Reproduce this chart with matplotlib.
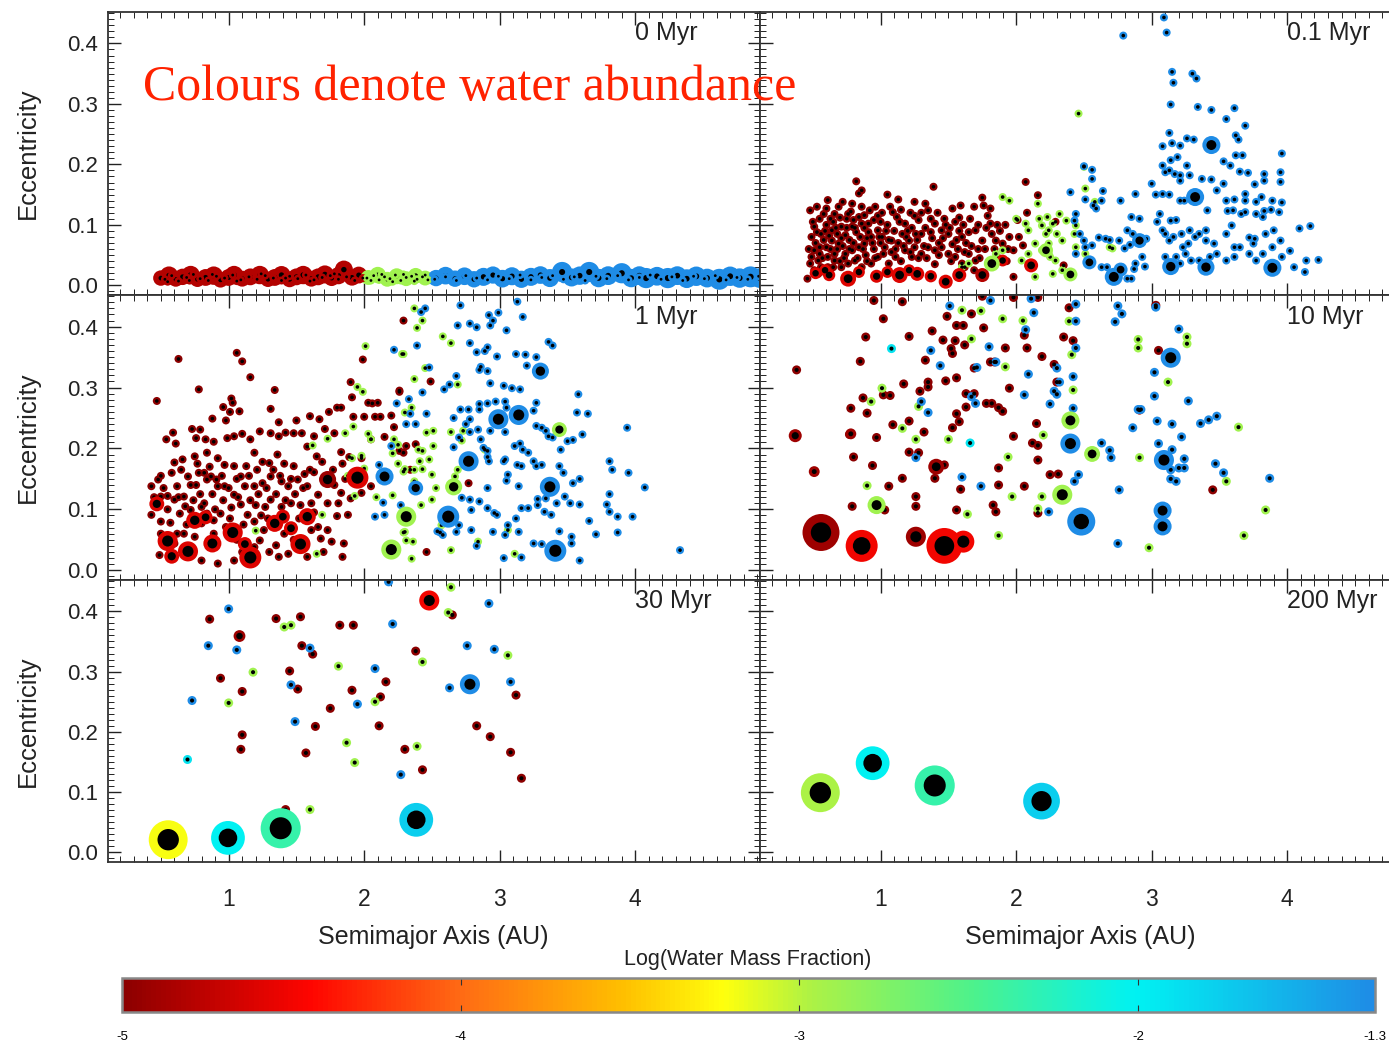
import numpy as np
import matplotlib.pyplot as plt
from matplotlib.colors import LinearSegmentedColormap
from matplotlib.ticker import MultipleLocator, FormatStrFormatter
import matplotlib.cm as cm
import matplotlib.colors as mcolors

plt.rcParams['font.family'] = ['Liberation Sans', 'DejaVu Sans']

# ---------------- colour scale: log(water mass fraction) ----------------
W_MIN, W_MAX = -5.0, -1.3
cmap = LinearSegmentedColormap.from_list('water', [
    (0.00, (0.55, 0.00, 0.00)),
    (0.15, (1.00, 0.02, 0.00)),
    (0.27, (1.00, 0.42, 0.08)),
    (0.40, (1.00, 0.75, 0.00)),
    (0.48, (1.00, 1.00, 0.05)),
    (0.55, (0.68, 0.95, 0.27)),
    (0.68, (0.30, 0.95, 0.55)),
    (0.81, (0.00, 0.95, 0.95)),
    (1.00, (0.12, 0.55, 0.90)),
])
cbar_ticks = [-5, -4, -3, -2, -1.3]
cbar_labels = ['-5', '-4', '-3', '-2', '-1.3']

# water values of the colour groups
W_DRY = -5.0
W_BAND_RED = -4.8
W_GREEN = -2.9
W_CYAN = -1.9
W_BLUE = -1.3

# masses (Earth masses) of the small bodies
M_SMALL = 0.028
M_SMALL_LATE = 0.04

# ---------------- 0 Myr ----------------
# embryos (a, e, mass)
p0_red_emb = [(0.50,0.012,0.20),(0.56,0.016,0.34),(0.61,0.010,0.18),(0.66,0.014,0.24),(0.72,0.017,0.34),
              (0.77,0.010,0.20),(0.83,0.013,0.26),(0.89,0.016,0.34),(0.94,0.009,0.20),(1.00,0.013,0.26),
              (1.04,0.017,0.34),(1.10,0.011,0.22),(1.16,0.014,0.26),(1.23,0.017,0.34),(1.29,0.010,0.20),
              (1.34,0.013,0.26),(1.39,0.017,0.32),(1.45,0.010,0.22),(1.50,0.014,0.26),(1.55,0.017,0.34),
              (1.61,0.011,0.22),(1.66,0.014,0.26),(1.71,0.018,0.32),(1.76,0.012,0.22),(1.81,0.016,0.28),
              (1.85,0.026,0.32),(1.91,0.013,0.24),(1.96,0.017,0.26)]
p0_green_emb = [(2.03,0.013,0.18),(2.10,0.017,0.24),(2.17,0.010,0.18),(2.24,0.015,0.22),(2.31,0.011,0.18),
                (2.38,0.016,0.20),(2.45,0.012,0.18)]
p0_blue_emb = [(2.53,0.012,0.24),(2.60,0.016,0.30),(2.67,0.011,0.24),(2.74,0.015,0.30),(2.81,0.010,0.24),
               (2.88,0.014,0.32),(2.95,0.017,0.28),(3.02,0.011,0.30),(3.09,0.015,0.32),(3.16,0.010,0.28),
               (3.23,0.014,0.32),(3.30,0.017,0.30),(3.37,0.012,0.32),(3.46,0.022,0.45),(3.53,0.013,0.32),
               (3.59,0.016,0.34),(3.66,0.022,0.45),(3.73,0.012,0.34),(3.80,0.016,0.36),(3.90,0.020,0.45),
               (3.97,0.012,0.34),(4.03,0.016,0.36),(4.08,0.012,0.45),(4.16,0.015,0.36),(4.24,0.012,0.45),
               (4.31,0.016,0.36),(4.38,0.011,0.36),(4.45,0.015,0.40),(4.53,0.012,0.36),(4.62,0.010,0.50),
               (4.70,0.015,0.40),(4.77,0.012,0.40),(4.85,0.014,0.50),(4.92,0.012,0.42)]
# planetesimals (a, e)
p0_red = [(0.53,0.010),(0.58,0.016),(0.63,0.007),(0.69,0.013),(0.74,0.018),(0.79,0.011),(0.85,0.008),
          (0.91,0.015),(0.97,0.012),(1.03,0.017),(1.09,0.009),(1.15,0.014),(1.21,0.010),(1.27,0.016),
          (1.33,0.012),(1.39,0.008),(1.45,0.015),(1.51,0.011),(1.57,0.017),(1.63,0.009),(1.69,0.013),
          (1.75,0.016),(1.81,0.010),(1.87,0.014),(1.93,0.008),(1.99,0.012),(0.55,0.006),(0.71,0.008),
          (0.88,0.018),(1.06,0.007),(1.24,0.019),(1.42,0.012),(1.60,0.007),(1.78,0.019)]
p0_green = [(2.02,0.012),(2.07,0.016),(2.11,0.009),(2.15,0.014),(2.19,0.011),(2.23,0.017),(2.27,0.008),
            (2.31,0.013),(2.35,0.015),(2.39,0.010),(2.43,0.014),(2.47,0.009),(2.05,0.008),(2.13,0.018),
            (2.21,0.006),(2.29,0.018),(2.37,0.007),(2.45,0.017)]
p0_blue = [(2.52,0.010),(2.60,0.014),(2.68,0.008),(2.75,0.016),(2.83,0.012),(2.91,0.009),(2.99,0.015),
           (3.07,0.011),(3.15,0.017),(3.23,0.009),(3.31,0.013),(3.39,0.016),(3.47,0.010),(3.55,0.014),
           (3.63,0.008),(3.71,0.015),(3.79,0.011),(3.87,0.016),(3.95,0.009),(4.03,0.013),(4.11,0.017),
           (4.19,0.010),(4.27,0.014),(4.35,0.008),(4.43,0.015),(4.51,0.011),(4.59,0.016),(4.67,0.009),
           (4.75,0.013),(4.83,0.010),(4.91,0.015)]

# ---------------- 0.1 Myr ----------------
p01_red = [(0.48,0.124),(0.61,0.141),(0.60,0.127),(0.72,0.138),(0.82,0.172),(0.86,0.157),(0.84,0.152),
           (0.79,0.135),(0.76,0.118),(0.69,0.130),(0.65,0.105),(0.55,0.110),(0.51,0.097),(0.49,0.080),
           (0.56,0.085),(0.64,0.091),(0.71,0.097),(0.79,0.097),(0.86,0.102),(0.91,0.102),(0.96,0.130),
           (0.92,0.124),(0.88,0.116),(0.84,0.113),(0.80,0.108),(0.74,0.083),(0.69,0.069),(0.64,0.074),
           (0.60,0.063),(0.55,0.063),(0.51,0.058),(0.49,0.047),(0.48,0.036),(0.54,0.041),(0.61,0.047),
           (0.66,0.052),(0.74,0.052),(0.79,0.058),(0.84,0.063),(0.88,0.069),(0.93,0.080),(0.98,0.091),
           (1.01,0.080),(1.03,0.063),(1.08,0.074),(1.09,0.121),(1.12,0.113),(1.05,0.150),(1.13,0.142),
           (1.18,0.102),(1.16,0.085),(1.21,0.074),(1.25,0.138),(1.28,0.108),(1.30,0.085),(1.33,0.135),
           (1.35,0.124),(1.39,0.163),(1.40,0.102),(1.45,0.091),(1.50,0.085),(1.53,0.127),(1.59,0.132),
           (1.55,0.105),(1.60,0.080),(1.65,0.088),(1.69,0.130),(1.75,0.145),(1.76,0.132),(1.81,0.127),
           (1.81,0.102),(1.70,0.091),(1.75,0.074),(1.82,0.085),(1.85,0.074),(1.90,0.069),(1.95,0.080),
           (1.98,0.058),(1.98,0.014),(2.07,0.171),(2.16,0.149),(2.08,0.120),(2.01,0.108),(2.02,0.080),
           (2.05,0.066),(1.30,0.052),(1.35,0.063),(1.40,0.058),(1.45,0.063),(1.50,0.052),(1.55,0.047),
           (1.23,0.047),(1.18,0.058),(1.11,0.047),(1.06,0.036),(0.98,0.047),(0.93,0.036),(0.86,0.030),
           (0.81,0.041),(0.76,0.036),(0.71,0.030),(0.66,0.041),(0.61,0.030),(0.56,0.030),(0.51,0.025),
           (0.46,0.011),(0.54,0.019),(1.25,0.063),(1.65,0.052),(1.70,0.041),(1.60,0.036),(1.69,0.025),
           (0.52,0.070),(0.58,0.075),(0.63,0.060),(0.68,0.085),(0.72,0.065),(0.77,0.075),(0.82,0.088),
           (0.87,0.060),(0.90,0.078),(0.95,0.060),(1.00,0.070),(1.04,0.090),(1.08,0.055),(1.13,0.070),
           (1.20,0.090),(1.27,0.075),(1.32,0.065),(1.38,0.078),(1.43,0.070),(1.48,0.100),(1.53,0.068),
           (1.58,0.090),(1.63,0.070),(1.72,0.060),(1.78,0.095),(1.88,0.090),(0.57,0.045),(0.70,0.040),
           (0.89,0.050),(1.15,0.040),(1.40,0.035),(1.62,0.030),(1.93,0.040),(0.60,0.100),(0.75,0.110),
           (1.00,0.105),(1.25,0.115),(0.53,0.130),(0.66,0.118),(0.98,0.115),(1.22,0.120),(1.58,0.112),
           (2.29,0.105),(2.35,0.033),
           (0.47,0.060),(0.50,0.105),(0.53,0.088),(0.55,0.052),(0.58,0.118),(0.59,0.090),(0.62,0.082),
           (0.63,0.110),(0.65,0.030),(0.67,0.095),(0.68,0.060),(0.70,0.112),(0.71,0.078),(0.73,0.045),
           (0.75,0.095),(0.77,0.060),(0.78,0.122),(0.80,0.070),(0.81,0.095),(0.83,0.045),(0.85,0.080),
           (0.86,0.130),(0.88,0.095),(0.90,0.040),(0.91,0.088),(0.94,0.070),(0.95,0.108),(0.96,0.045),
           (0.99,0.080),(1.01,0.120),(1.02,0.052),(1.05,0.100),(1.06,0.075),(1.07,0.130),(1.10,0.090),
           (1.11,0.060),(1.14,0.105),(1.15,0.125),(1.17,0.065),(1.19,0.080),(1.22,0.055),(1.23,0.095),
           (1.26,0.085),(1.28,0.045),(1.30,0.120),(1.33,0.095),(1.34,0.045),(1.37,0.110),(1.37,0.088),
           (1.42,0.120),(1.43,0.050),(1.46,0.078),(1.47,0.110),(1.51,0.095),(1.52,0.040),(1.56,0.075),
           (1.57,0.060),(1.61,0.100),(1.62,0.055),(1.66,0.110),(1.67,0.065),(1.72,0.100),(1.73,0.045),
           (1.77,0.060),(1.79,0.115),(1.84,0.060),(1.86,0.100),(1.87,0.045),(1.92,0.100),(1.94,0.060)]
p01_green = [(1.90,0.146),(1.95,0.140),(2.00,0.110),(2.07,0.102),(2.09,0.091),(2.16,0.135),(2.17,0.110),
             (2.19,0.099),(2.22,0.085),(2.24,0.069),(2.14,0.069),(2.09,0.052),(2.04,0.041),(1.90,0.058),
             (1.85,0.052),(1.82,0.041),(1.65,0.036),(1.60,0.030),(2.14,0.014),(2.19,0.058),(2.25,0.047),
             (2.46,0.284),(2.32,0.118),(2.37,0.107),(2.27,0.102),(2.24,0.091),(2.30,0.085),(2.34,0.074),
             (2.43,0.085),(2.44,0.063),(2.51,0.052),(2.71,0.061),(2.24,0.052),(2.29,0.041),(2.34,0.025),
             (2.27,0.019),(2.44,0.099),(2.50,0.196),(2.51,0.160),(2.58,0.138),(2.69,0.063),(2.23,0.113)]
p01_blue = [(2.79,0.413),(3.09,0.443),(3.11,0.418),(3.15,0.353),(3.16,0.335),(3.30,0.350),(3.33,0.342),
            (3.14,0.299),(3.34,0.295),(3.44,0.290),(3.61,0.293),(3.55,0.275),(3.69,0.264),(3.13,0.252),
            (3.08,0.230),(3.15,0.235),(3.21,0.231),(3.26,0.243),(3.31,0.241),(3.62,0.248),(3.64,0.241),
            (3.62,0.215),(3.67,0.215),(3.96,0.218),(3.19,0.212),(3.14,0.207),(3.53,0.205),(3.58,0.198),
            (3.65,0.188),(3.71,0.186),(3.83,0.184),(3.95,0.187),(3.95,0.171),(3.83,0.173),(3.76,0.167),
            (3.08,0.198),(3.10,0.187),(3.13,0.190),(3.17,0.184),(3.21,0.182),(3.26,0.198),(3.21,0.173),
            (3.28,0.182),(3.37,0.176),(3.44,0.175),(3.48,0.157),(3.53,0.168),(3.55,0.140),(3.61,0.142),
            (3.69,0.140),(3.77,0.138),(3.81,0.146),(3.89,0.140),(3.96,0.137),(3.00,0.168),(3.03,0.150),
            (3.08,0.151),(3.13,0.150),(3.21,0.140),(3.24,0.140),(3.41,0.124),(3.56,0.123),(3.60,0.124),
            (3.66,0.118),(3.69,0.121),(3.77,0.118),(3.83,0.123),(3.88,0.125),(3.94,0.121),(2.88,0.151),
            (2.77,0.140),(2.64,0.156),(2.63,0.140),(2.56,0.176),(2.56,0.191),(2.50,0.197),(2.40,0.154),
            (2.51,0.142),(2.57,0.132),(2.59,0.127),(2.44,0.118),(2.43,0.107),(2.47,0.085),(2.50,0.074),
            (2.56,0.066),(2.61,0.079),(2.66,0.077),(2.69,0.075),(2.76,0.074),(2.82,0.091),(2.85,0.113),
            (2.91,0.110),(2.86,0.085),(2.93,0.074),(2.96,0.077),(2.84,0.067),(2.80,0.061),(2.93,0.047),
            (2.95,0.031),(2.88,0.036),(2.87,0.027),(2.85,0.011),(2.82,0.011),(2.78,0.030),(2.67,0.030),
            (2.63,0.030),(2.51,0.063),(2.44,0.052),(3.04,0.105),(3.06,0.118),(3.14,0.107),(3.18,0.108),
            (3.08,0.091),(3.10,0.085),(3.13,0.074),(3.16,0.080),(3.22,0.085),(3.28,0.091),(3.32,0.080),
            (3.35,0.085),(3.40,0.091),(3.40,0.074),(3.46,0.069),(3.27,0.069),(3.23,0.063),(3.25,0.052),
            (3.29,0.041),(3.35,0.041),(3.48,0.052),(3.55,0.085),(3.59,0.099),(3.61,0.063),(3.65,0.063),
            (3.72,0.079),(3.76,0.077),(3.84,0.085),(3.90,0.091),(3.89,0.063),(3.95,0.074),(4.02,0.057),
            (3.82,0.052),(3.75,0.069),(3.61,0.047),(3.55,0.041),(4.09,0.094),(4.17,0.098),(4.14,0.041),
            (4.23,0.042),(4.05,0.030),(4.13,0.022),(3.96,0.047),(3.10,0.047),(3.18,0.047),(3.21,0.036),
            (3.43,0.047),(3.72,0.052),(3.77,0.041),(3.82,0.113),(3.69,0.151)]
# large bodies (a, e, mass, water)
p01_big = [(0.62,0.017,0.10,-4.6),(0.59,0.025,0.09,-4.6),(0.76,0.011,0.22,-4.6),(0.84,0.022,0.09,-4.6),
           (1.14,0.017,0.22,-4.6),(1.21,0.025,0.09,-4.6),(1.27,0.019,0.15,-4.6),(1.48,0.006,0.15,-4.6),
           (1.58,0.017,0.15,-4.6),(1.75,0.017,0.15,-4.8),(1.90,0.041,0.09,-4.6),(2.11,0.033,0.15,-4.6),
           (0.52,0.020,0.09,-4.6),(0.97,0.015,0.12,-4.6),(1.05,0.022,0.09,-4.6),(1.37,0.015,0.10,-4.6),
           (1.82,0.036,0.22,-2.9),(2.22,0.058,0.15,-2.9),(2.40,0.018,0.15,-2.9),
           (3.44,0.232,0.32,-1.3),(3.32,0.146,0.32,-1.3),(2.91,0.074,0.18,-1.3),(2.54,0.038,0.15,-1.3),
           (2.72,0.014,0.32,-1.3),(2.77,0.026,0.15,-1.3),(3.14,0.031,0.27,-1.3),(3.40,0.030,0.27,-1.3),
           (3.89,0.029,0.32,-1.3)]

# ---------------- 1 Myr ----------------
p1_red = [(0.63,0.347),(1.06,0.357),(1.10,0.343),(1.16,0.317),(0.78,0.297),(0.47,0.278),(1.34,0.296),
          (1.02,0.282),(1.03,0.275),(0.96,0.268),(1.01,0.260),(1.08,0.261),(0.88,0.249),(0.98,0.246),
          (1.31,0.265),(1.37,0.243),(1.50,0.246),(1.60,0.253),(1.67,0.248),(1.74,0.260),(1.80,0.267),
          (1.83,0.267),(1.90,0.309),(1.91,0.284),(1.99,0.346),(2.03,0.275),(2.06,0.274),(2.10,0.275),
          (1.92,0.252),(2.00,0.252),(2.08,0.252),(2.12,0.252),(2.20,0.254),(2.22,0.235),(2.26,0.293),
          (2.29,0.193),(0.59,0.226),(0.54,0.215),(0.61,0.208),(0.73,0.232),(0.79,0.231),(0.76,0.217),
          (0.83,0.215),(0.89,0.211),(0.99,0.217),(1.04,0.220),(1.10,0.224),(1.16,0.215),(1.23,0.228),
          (1.31,0.225),(1.37,0.220),(1.42,0.226),(1.48,0.225),(1.54,0.225),(1.58,0.203),(1.63,0.220),
          (1.71,0.232),(1.78,0.225),(1.65,0.187),(1.69,0.178),(1.83,0.194),(1.89,0.186),(1.98,0.184),
          (2.05,0.215),(2.15,0.219),(1.84,0.175),(1.63,0.161),(1.56,0.158),(1.48,0.171),(1.41,0.175),
          (1.36,0.190),(1.30,0.176),(1.25,0.178),(1.19,0.193),(1.13,0.171),(1.09,0.154),(1.04,0.171),
          (0.97,0.173),(0.92,0.184),(0.84,0.193),(0.82,0.160),(0.87,0.154),(0.91,0.149),(0.75,0.187),
          (0.77,0.175),(0.66,0.182),(0.60,0.177),(0.50,0.155),(0.48,0.149),(0.43,0.138),(0.62,0.138),
          (0.70,0.154),(0.76,0.140),(0.84,0.149),(0.92,0.138),(0.97,0.138),(1.04,0.124),(1.12,0.138),
          (1.19,0.138),(1.25,0.143),(1.31,0.154),(1.39,0.146),(1.44,0.138),(1.51,0.149),(1.58,0.138),
          (1.66,0.124),(1.78,0.140),(1.83,0.127),(1.90,0.118),(1.98,0.127),(2.05,0.138),(1.88,0.091),
          (1.80,0.089),(1.73,0.066),(1.66,0.071),(1.61,0.110),(1.53,0.107),(1.46,0.110),(1.39,0.104),
          (1.31,0.116),(1.27,0.104),(1.20,0.107),(1.14,0.091),(1.09,0.108),(1.02,0.103),(0.94,0.093),
          (0.89,0.082),(0.84,0.093),(0.80,0.104),(0.72,0.099),(0.67,0.121),(0.60,0.116),(0.55,0.122),
          (0.50,0.121),(0.43,0.091),(0.50,0.080),(0.57,0.078),(0.64,0.093),(0.50,0.060),(0.49,0.025),
          (0.60,0.044),(0.67,0.060),(0.80,0.077),(0.89,0.060),(0.98,0.071),(1.19,0.080),(1.26,0.066),
          (1.23,0.049),(1.19,0.038),(1.35,0.041),(1.37,0.022),(1.41,0.060),(1.61,0.066),(1.68,0.052),
          (1.76,0.047),(1.85,0.044),(1.84,0.022),(1.58,0.022),(1.44,0.027),(1.10,0.030),(1.04,0.016),
          (0.92,0.011),(0.80,0.016),(0.72,0.027),(2.29,0.410),(2.49,0.310),(2.26,0.295),(2.31,0.204),
          (2.38,0.207),(2.34,0.165),(2.77,0.143),(2.46,0.030),(2.26,0.196),
          (0.45,0.120),(0.52,0.135),(0.55,0.100),(0.58,0.160),(0.63,0.120),(0.65,0.165),(0.68,0.105),
          (0.69,0.075),(0.72,0.140),(0.74,0.115),(0.78,0.160),(0.79,0.125),(0.82,0.110),(0.86,0.170),
          (0.88,0.125),(0.90,0.100),(0.95,0.155),(0.96,0.115),(1.00,0.135),(1.01,0.085),(1.06,0.150),
          (1.07,0.120),(1.11,0.075),(1.15,0.155),(1.16,0.115),(1.21,0.165),(1.22,0.125),(1.24,0.090),
          (1.28,0.135),(1.29,0.085),(1.33,0.165),(1.35,0.125),(1.38,0.155),(1.42,0.115),(1.46,0.150),
          (1.49,0.125),(1.52,0.085),(1.55,0.135),(1.60,0.165),(1.63,0.095),(1.70,0.150),(1.73,0.110),
          (1.77,0.165),(1.81,0.110),(1.86,0.150),(1.94,0.150),(0.62,0.060),(0.75,0.055),(1.06,0.050),
          (1.30,0.030),(1.48,0.050),(1.70,0.030)]
p1_green = [(2.01,0.368),(2.28,0.355),(1.95,0.301),(1.99,0.293),(1.92,0.236),(1.86,0.225),(1.73,0.216),
            (1.62,0.205),(2.03,0.224),(2.05,0.215),(1.98,0.188),(1.91,0.184),(2.00,0.167),(2.22,0.215),
            (2.25,0.206),(2.21,0.192),(2.25,0.175),(2.29,0.162),(1.93,0.122),(1.88,0.155),(1.69,0.091),
            (2.21,0.123),(2.09,0.120),(1.20,0.065),(1.65,0.027),(2.29,0.062),(2.37,0.430),(2.43,0.410),
            (2.39,0.398),(2.58,0.384),(2.64,0.373),(2.29,0.355),(2.37,0.314),(2.45,0.332),(2.69,0.305),
            (2.35,0.267),(2.30,0.259),(2.46,0.226),(2.51,0.229),(2.64,0.227),(2.73,0.229),(2.72,0.213),
            (2.40,0.198),(2.43,0.196),(2.51,0.204),(2.48,0.182),(2.41,0.179),(2.30,0.166),(2.37,0.165),
            (2.43,0.166),(2.50,0.157),(2.37,0.146),(2.53,0.135),(2.69,0.165),(2.67,0.154),(2.89,0.198),
            (2.42,0.107),(2.50,0.116),(2.30,0.063),(2.31,0.049),(2.36,0.047),(2.57,0.074),(2.64,0.033),
            (2.84,0.047),(3.06,0.066),(3.11,0.027),(2.35,0.019)]
p1_blue = [(2.22,0.362),(2.24,0.274),(2.20,0.204),(2.11,0.173),(2.14,0.111),(2.27,0.107),(2.08,0.088),
           (2.15,0.091),(2.45,0.430),(2.42,0.424),(2.71,0.435),(2.92,0.419),(2.99,0.423),(2.95,0.410),
           (2.93,0.402),(3.17,0.416),(3.13,0.441),(2.69,0.402),(2.78,0.405),(2.83,0.399),(2.78,0.373),
           (3.05,0.394),(2.39,0.369),(2.91,0.366),(2.89,0.360),(2.83,0.358),(2.98,0.351),(3.12,0.355),
           (3.19,0.354),(3.20,0.336),(3.27,0.350),(3.36,0.375),(3.39,0.369),(2.86,0.334),(2.85,0.329),
           (2.91,0.327),(3.03,0.303),(3.09,0.299),(3.15,0.297),(2.93,0.307),(2.68,0.319),(2.63,0.305),
           (2.59,0.297),(2.48,0.333),(2.43,0.292),(2.33,0.281),(2.34,0.257),(2.31,0.240),(2.38,0.240),
           (2.46,0.257),(2.66,0.250),(2.71,0.264),(2.77,0.264),(2.78,0.248),(2.85,0.273),(2.85,0.264),
           (2.91,0.274),(2.97,0.277),(3.04,0.277),(3.05,0.267),(2.75,0.240),(2.78,0.227),(2.84,0.231),
           (2.86,0.215),(2.70,0.218),(2.66,0.202),(2.88,0.201),(2.91,0.196),(2.93,0.229),(3.04,0.227),
           (3.11,0.204),(3.15,0.208),(3.17,0.198),(3.21,0.193),(3.27,0.237),(3.31,0.234),(3.34,0.229),
           (3.27,0.275),(3.25,0.262),(3.36,0.220),(3.39,0.218),(3.45,0.198),(3.50,0.212),(3.54,0.214),
           (3.61,0.223),(3.58,0.289),(3.57,0.259),(3.65,0.257),(3.94,0.234),(3.81,0.179),(3.83,0.165),
           (3.95,0.160),(4.07,0.136),(3.81,0.125),(3.79,0.108),(3.81,0.096),(3.87,0.088),(3.87,0.062),
           (3.98,0.088),(3.66,0.081),(3.71,0.059),(3.59,0.108),(3.52,0.110),(3.48,0.121),(3.42,0.110),
           (3.38,0.091),(3.28,0.107),(3.28,0.117),(3.34,0.118),(3.33,0.096),(3.21,0.102),(3.16,0.102),
           (3.12,0.085),(3.06,0.074),(3.04,0.058),(3.14,0.063),(2.96,0.094),(2.98,0.091),(2.91,0.102),
           (2.91,0.135),(2.85,0.113),(2.78,0.116),(2.72,0.119),(2.79,0.099),(2.70,0.074),(2.56,0.062),
           (2.54,0.064),(2.58,0.058),(2.68,0.063),(2.79,0.066),(2.83,0.040),(2.95,0.063),(3.03,0.020),
           (3.16,0.021),(3.25,0.044),(3.31,0.043),(3.44,0.064),(3.53,0.055),(3.53,0.044),(3.59,0.016),
           (3.54,0.143),(3.59,0.150),(3.47,0.160),(3.44,0.171),(3.06,0.157),(3.05,0.147),(3.14,0.138),
           (3.03,0.179),(2.92,0.179),(2.91,0.186),(3.04,0.182),(3.13,0.173),(3.16,0.171),(3.25,0.179),
           (3.27,0.171),(3.31,0.173),(4.33,0.033)]
p1_big = [(0.47,0.109,0.18,-4.6),(0.55,0.048,0.44,-4.6),(0.70,0.031,0.44,-4.6),(0.58,0.023,0.18,-4.6),
          (0.75,0.082,0.27,-4.6),(0.83,0.087,0.15,-4.6),(0.88,0.044,0.32,-4.6),(1.03,0.062,0.44,-4.6),
          (1.12,0.043,0.15,-4.6),(1.16,0.021,0.58,-4.6),(1.34,0.077,0.27,-4.6),(1.46,0.069,0.15,-4.6),
          (1.40,0.088,0.15,-4.6),(1.58,0.088,0.27,-4.6),(1.53,0.043,0.44,-4.6),(1.73,0.149,0.27,-4.9),
          (1.95,0.152,0.58,-4.6),
          (3.44,0.231,0.18,-2.9),(2.66,0.137,0.27,-2.9),(2.31,0.088,0.44,-2.9),(2.20,0.034,0.44,-2.9),
          (3.30,0.327,0.27,-1.3),(2.99,0.248,0.44,-1.3),(3.14,0.255,0.44,-1.3),(2.77,0.179,0.44,-1.3),
          (3.37,0.137,0.44,-1.3),(2.38,0.135,0.18,-1.3),(2.62,0.088,0.58,-1.3),(3.41,0.032,0.58,-1.3),
          (2.15,0.154,0.32,-1.3)]

# ---------------- 10 Myr ----------------
p10_red = [(0.95,0.443),(1.16,0.441),(1.02,0.413),(0.89,0.383),(1.21,0.384),(0.85,0.343),(0.38,0.329),
           (1.38,0.393),(1.46,0.378),(1.49,0.417),(1.56,0.402),(1.61,0.402),(1.76,0.398),(1.67,0.421),
           (1.55,0.377),(1.62,0.370),(1.75,0.450),(1.52,0.364),(1.53,0.356),(1.33,0.345),(1.92,0.365),
           (1.81,0.342),(1.84,0.342),(1.69,0.332),(1.56,0.316),(1.48,0.311),(1.35,0.309),(1.35,0.301),
           (1.29,0.294),(1.17,0.306),(1.07,0.287),(1.02,0.288),(0.87,0.283),(0.90,0.258),(0.78,0.266),
           (0.77,0.223),(0.97,0.218),(1.09,0.239),(1.21,0.245),(1.32,0.227),(1.21,0.194),(1.28,0.193),
           (0.80,0.186),(0.94,0.172),(1.16,0.151),(1.26,0.121),(1.26,0.105),(1.06,0.138),(0.79,0.105),
           (1.03,0.099),(1.40,0.151),(1.47,0.173),(1.63,0.290),(1.69,0.290),(1.56,0.257),(1.58,0.244),
           (1.53,0.234),(1.63,0.268),(1.78,0.274),(1.82,0.274),(1.87,0.267),(1.90,0.261),(1.95,0.299),
           (1.98,0.220),(2.12,0.209),(2.16,0.205),(2.16,0.181),(2.15,0.241),(2.08,0.365),(2.06,0.386),
           (2.19,0.351),(2.28,0.338),(2.35,0.383),(2.42,0.377),(2.30,0.309),(2.39,0.431),(1.98,0.448),
           (2.16,0.448),(1.87,0.140),(1.87,0.168),(1.83,0.107),(1.85,0.096),(2.06,0.138),(2.16,0.094),
           (2.25,0.157),(2.31,0.158),(1.59,0.133),(1.56,0.099),(3.03,0.435),(3.05,0.361),(3.45,0.132),
           (2.91,0.263)]
p10_green = [(1.01,0.299),(0.93,0.277),(1.28,0.269),(1.16,0.233),(1.26,0.215),(1.50,0.215),(1.60,0.427),
             (1.74,0.426),(1.90,0.413),(2.05,0.410),(1.67,0.380),(1.92,0.334),(0.90,0.139),(1.64,0.092),
             (1.87,0.057),(1.97,0.121),(1.94,0.186),(2.20,0.222),(2.16,0.101),(2.19,0.121),(2.39,0.409),
             (2.41,0.354),(2.42,0.296),(3.26,0.383),(3.26,0.372),(3.12,0.309),(3.64,0.235),(3.55,0.146),
             (3.84,0.099),(3.68,0.057),(2.98,0.037),(2.91,0.185),(2.90,0.379),(2.90,0.365)]
p10_cyan = [(1.08,0.364),(1.66,0.209)]
p10_blue = [(1.51,0.434),(1.81,0.443),(2.11,0.446),(2.13,0.423),(2.07,0.395),(1.80,0.367),(1.85,0.342),
            (1.71,0.333),(1.44,0.336),(1.37,0.361),(1.30,0.277),(1.35,0.259),(1.67,0.285),(1.70,0.274),
            (2.09,0.322),(2.06,0.288),(2.30,0.332),(2.32,0.309),(2.28,0.294),(2.30,0.289),(2.25,0.273),
            (2.42,0.318),(2.42,0.266),(2.44,0.365),(2.44,0.409),(2.44,0.437),(1.60,0.153),(1.74,0.138),
            (2.24,0.096),(2.43,0.146),(2.46,0.157),(1.26,0.185),(2.75,0.434),(2.78,0.421),(2.73,0.408),
            (3.20,0.396),(3.03,0.432),(3.02,0.325),(3.02,0.286),(2.90,0.264),(2.92,0.264),(3.04,0.245),
            (3.15,0.240),(3.22,0.219),(3.27,0.278),(3.36,0.241),(3.42,0.247),(3.48,0.253),(3.47,0.175),
            (3.53,0.160),(3.87,0.151),(3.15,0.198),(3.20,0.168),(3.24,0.168),(3.24,0.183),(3.14,0.165),
            (3.18,0.146),(3.14,0.150),(3.05,0.208),(2.75,0.044),(2.76,0.132),(2.86,0.234),(2.63,0.209),
            (2.69,0.197),(2.70,0.185)]
p10_big = [(0.37,0.221,0.12,-4.9),(0.51,0.162,0.07,-4.9),(0.78,0.224,0.07,-4.9),(1.41,0.170,0.22,-4.9),
           (0.56,0.062,2.75,-4.9),(0.86,0.040,1.78,-4.5),(1.26,0.055,0.44,-4.9),(1.47,0.040,2.50,-4.5),
           (1.61,0.047,0.58,-4.5),
           (0.97,0.107,0.32,-2.9),(2.40,0.246,0.32,-2.9),(2.34,0.124,0.44,-2.9),(2.56,0.191,0.22,-2.9),
           (3.14,0.349,0.44,-1.3),(3.09,0.181,0.44,-1.3),(3.08,0.098,0.32,-1.3),(3.08,0.072,0.32,-1.3),
           (2.48,0.080,1.20,-1.3),(2.40,0.208,0.44,-1.3)]

# ---------------- 30 Myr ----------------
p30_red = [(0.86,0.387),(1.35,0.388),(1.53,0.391),(1.82,0.377),(1.92,0.377),(1.54,0.343),(1.62,0.329),
           (1.45,0.301),(1.51,0.271),(0.94,0.289),(1.10,0.267),(1.10,0.195),(1.09,0.171),(1.57,0.165),
           (1.75,0.239),(1.91,0.269),(1.64,0.209),(2.11,0.210),(2.12,0.258),(2.16,0.283),(2.38,0.334),
           (2.30,0.171),(2.43,0.137),(2.83,0.210),(2.93,0.192),(3.08,0.166),(3.16,0.123),(3.12,0.261),
           (1.42,0.071),(2.65,0.394)]
p30_green = [(1.41,0.374),(1.46,0.377),(1.18,0.299),(1.00,0.248),(1.81,0.309),(2.08,0.250),(1.87,0.182),
             (1.93,0.149),(2.39,0.176),(2.43,0.316),(3.06,0.327),(2.64,0.440),(2.62,0.398),(1.60,0.071)]
p30_cyan = [(0.69,0.155)]
p30_blue = [(1.00,0.404),(0.85,0.343),(1.06,0.336),(1.60,0.339),(0.73,0.252),(1.46,0.278),(1.49,0.217),
            (1.95,0.246),(2.08,0.305),(2.21,0.379),(2.18,0.449),(2.27,0.129),(2.63,0.273),(2.76,0.343),
            (2.96,0.337),(3.08,0.283),(2.92,0.413)]
p30_big = [(1.08,0.359,0.09,-4.9),(2.48,0.418,0.44,-4.5),(2.78,0.279,0.44,-1.3),
           (0.554,0.021,3.2,-3.2),(0.995,0.024,2.1,-2.0),(1.384,0.040,3.5,-2.35),(2.384,0.054,2.1,-1.75)]

# ---------------- 200 Myr ----------------
p200_big = [(0.555,0.099,3.2,-2.95),(0.941,0.148,2.1,-2.0),(1.399,0.111,3.5,-2.35),(2.187,0.085,2.7,-1.75)]

panel_names = ['0 Myr', '0.1 Myr', '1 Myr', '10 Myr', '30 Myr', '200 Myr']


# ---------------- drawing ----------------
norm = mcolors.Normalize(W_MIN, W_MAX)


def draw(ax, a, e, m, w, z, core=None):
    a = np.asarray(a, float)
    e = np.asarray(e, float)
    m = np.asarray(m, float)
    w = np.broadcast_to(np.asarray(w, float), a.shape)
    d = np.maximum(19 * np.cbrt(m), 5.6)
    if core is None:
        inner = np.where(d > 8.5, 0.55 * d, 0.45 * d)
    else:
        inner = core * d
    ax.scatter(a, e, s=d ** 2, c=cmap(norm(w)), linewidths=0, zorder=z)
    ax.scatter(a, e, s=inner ** 2, c='black', linewidths=0, zorder=z + 0.5)


def small(ax, pts, w, m, z=2, core=None):
    a = [p[0] for p in pts]
    e = [p[1] for p in pts]
    draw(ax, a, e, [m] * len(pts), w, z, core)


def big(ax, rows, z=4):
    draw(ax, [r[0] for r in rows], [r[1] for r in rows], [r[2] for r in rows], [r[3] for r in rows], z)


def emb(ax, rows, w, z, core=None):
    draw(ax, [r[0] for r in rows], [r[1] for r in rows], [r[2] for r in rows], w, z, core)


W, H = 1389, 1044
fig = plt.figure(figsize=(W / 100, H / 100), dpi=100)

col_x = [108, 760]
col_w = 652
row_y = [(12, 295), (295, 580), (580, 862)]
axes = []
for r, (top, bot) in enumerate(row_y):
    for c in range(2):
        ax = fig.add_axes([col_x[c] / W, 1 - bot / H, col_w / W, (bot - top) / H])
        axes.append(ax)

for i, ax in enumerate(axes):
    ax.set_xlim(0.11, 4.92)
    ax.set_ylim(-0.016, 0.452)
    ax.set_xticks([1, 2, 3, 4])
    ax.set_yticks([0, 0.1, 0.2, 0.3, 0.4])
    ax.xaxis.set_minor_locator(MultipleLocator(0.1))
    ax.yaxis.set_minor_locator(MultipleLocator(0.01))
    ax.yaxis.set_major_formatter(FormatStrFormatter('%.1f'))
    ax.tick_params(which='both', direction='in', top=True, right=True, color='#222222')
    ax.tick_params(which='major', length=9, width=1.0)
    ax.tick_params(which='minor', length=4.5, width=0.7)
    ax.tick_params(axis='y', labelsize=16, pad=7, labelcolor='#222222')
    ax.tick_params(axis='x', labelsize=16.5, pad=19, labelcolor='#222222')
    for sp in ax.spines.values():
        sp.set_color('#333333')
        sp.set_linewidth(1.3)
    if i % 2 == 1:
        ax.tick_params(labelleft=False)
    if i < 4:
        ax.tick_params(labelbottom=False)
    ax.text(4.0, 0.4165, panel_names[i], fontsize=18, ha='left', va='center', color='#222222', zorder=10)

# 0 Myr
ax = axes[0]
emb(ax, p0_red_emb, W_BAND_RED, 2, core=0.3)
emb(ax, p0_green_emb, W_GREEN, 2, core=0.3)
emb(ax, p0_blue_emb, W_BLUE, 2, core=0.3)
small(ax, p0_red, W_BAND_RED, M_SMALL, 3, core=0.35)
small(ax, p0_green, W_GREEN, M_SMALL, 3, core=0.35)
small(ax, p0_blue, W_BLUE, M_SMALL, 3, core=0.35)

# 0.1 Myr
ax = axes[1]
small(ax, p01_red, W_DRY, M_SMALL)
small(ax, p01_green, W_GREEN, M_SMALL)
small(ax, p01_blue, W_BLUE, M_SMALL)
big(ax, p01_big)

# 1 Myr
ax = axes[2]
small(ax, p1_red, W_DRY, M_SMALL)
small(ax, p1_green, W_GREEN, M_SMALL)
small(ax, p1_blue, W_BLUE, M_SMALL)
big(ax, p1_big)

# 10 Myr
ax = axes[3]
small(ax, p10_red, W_DRY, M_SMALL_LATE)
small(ax, p10_green, W_GREEN, M_SMALL_LATE)
small(ax, p10_cyan, W_CYAN, M_SMALL_LATE)
small(ax, p10_blue, W_BLUE, M_SMALL_LATE)
big(ax, p10_big)

# 30 Myr
ax = axes[4]
small(ax, p30_red, W_DRY, M_SMALL_LATE)
small(ax, p30_green, W_GREEN, M_SMALL_LATE)
small(ax, p30_cyan, W_CYAN, M_SMALL_LATE)
small(ax, p30_blue, W_BLUE, M_SMALL_LATE)
big(ax, p30_big)

# 200 Myr
big(axes[5], p200_big)

# labels
for top, bot in row_y:
    fig.text(28 / W, 1 - (top + bot) / 2 / H, 'Eccentricity', rotation=90, fontsize=18.5,
             ha='center', va='center', color='#222222')
fig.text(433 / W, 1 - 937 / H, 'Semimajor Axis (AU)', fontsize=18, ha='center', va='center', color='#222222')
fig.text(1080 / W, 1 - 937 / H, 'Semimajor Axis (AU)', fontsize=18, ha='center', va='center', color='#222222')

fig.text(143 / W, 1 - 100 / H, 'Colours denote water abundance', fontsize=36, color='#ff2200',
         family=['Liberation Serif', 'DejaVu Serif'], ha='left', va='baseline', zorder=20)

# colour bar
cax = fig.add_axes([122 / W, 1 - 1012 / H, (1375 - 122) / W, 34 / H])
sm = cm.ScalarMappable(norm=norm, cmap=cmap)
cb = fig.colorbar(sm, cax=cax, orientation='horizontal')
cb.set_ticks(cbar_ticks)
cb.set_ticklabels(cbar_labels)
cax.tick_params(which='both', direction='in', top=True, length=5, width=0.8, color='#333333',
                labelsize=9.5, pad=14)
cb.outline.set_edgecolor('#888888')
cb.outline.set_linewidth(1.8)
fig.text(748 / W, 1 - 960 / H, 'Log(Water Mass Fraction)', fontsize=15.5, ha='center', va='center',
         color='#222222')

fig.savefig('out.png', dpi=100)
